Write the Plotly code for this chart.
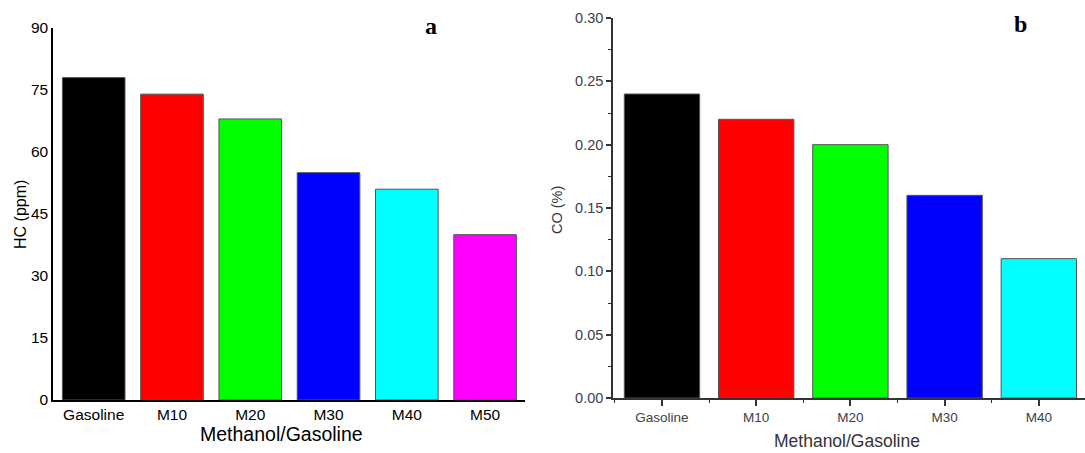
import plotly.graph_objects as go

# Emission data for methanol/gasoline blends
hc_categories = ["Gasoline", "M10", "M20", "M30", "M40", "M50"]
hc_values = [78, 74, 68, 55, 51, 40]
hc_colors = ["#000000", "#ff0000", "#00ff00", "#0000ff", "#00ffff", "#ff00ff"]

co_categories = ["Gasoline", "M10", "M20", "M30", "M40"]
co_values = [0.24, 0.22, 0.20, 0.16, 0.11]
co_colors = ["#000000", "#ff0000", "#00ff00", "#0000ff", "#00ffff"]

hc_ticks = [0, 15, 30, 45, 60, 75, 90]
co_ticks = [0.00, 0.05, 0.10, 0.15, 0.20, 0.25, 0.30]

W, H = 1085, 453

fig = go.Figure()

fig.add_trace(go.Bar(
    x=list(range(len(hc_categories))), y=hc_values,
    marker=dict(color=hc_colors, line=dict(color="#555555", width=1)),
    xaxis="x", yaxis="y", showlegend=False, width=0.8,
))
fig.add_trace(go.Bar(
    x=list(range(len(co_categories))), y=co_values,
    marker=dict(color=co_colors, line=dict(color="#555555", width=1)),
    xaxis="x2", yaxis="y2", showlegend=False, width=0.8,
))

def fx(px):
    return px / W

def fy(py):
    return (H - py) / H

fig.update_layout(
    width=W, height=H,
    margin=dict(l=0, r=0, t=0, b=0, autoexpand=False),
    paper_bgcolor="white", plot_bgcolor="white",
    font=dict(family="Arial, Liberation Sans, sans-serif", color="black"),
    xaxis=dict(
        domain=[fx(53), fx(525)], range=[-0.52, 5.51],
        tickmode="array", tickvals=list(range(len(hc_categories))), ticktext=hc_categories,
        showline=True, linecolor="black", linewidth=1.5, ticks="",
        showgrid=False, zeroline=False, tickfont=dict(size=15.5, color="black"),
        anchor="y", automargin=False,
    ),
    yaxis=dict(
        domain=[fy(400), fy(28)], range=[0, 90],
        tickmode="array", tickvals=hc_ticks,
        showline=True, linecolor="black", linewidth=1.5, ticks="",
        showgrid=False, zeroline=False, tickfont=dict(size=15.5, color="black"),
        anchor="x", automargin=False,
    ),
    xaxis2=dict(
        domain=[fx(613), 1.0], range=[-0.52, 4.49],
        tickmode="array", tickvals=list(range(len(co_categories))), ticktext=co_categories,
        showline=True, linecolor="#333333", linewidth=1.5,
        ticks="outside", ticklen=6, tickwidth=1.5, tickcolor="#333333",
        minor=dict(tickmode="array", tickvals=[i + 0.5 for i in range(-1, len(co_categories))],
                   ticks="outside", ticklen=3, tickwidth=1, tickcolor="#333333"),
        showgrid=False, zeroline=False, tickfont=dict(size=13.5, color="#404048"),
        anchor="y2", automargin=False,
    ),
    yaxis2=dict(
        domain=[fy(398), fy(18)], range=[0, 0.30],
        tickmode="array", tickvals=co_ticks, tickformat=".2f",
        showline=True, linecolor="#333333", linewidth=1.5,
        ticks="outside", ticklen=5, tickwidth=1.5, tickcolor="#333333",
        minor=dict(tickmode="array", tickvals=[0.025 + 0.05 * i for i in range(6)],
                   ticks="outside", ticklen=3, tickwidth=1, tickcolor="#333333"),
        showgrid=False, zeroline=False, tickfont=dict(size=14.5, color="#404048"),
        anchor="x2", automargin=False,
    ),
    bargap=0.2,
)

annotations = [
    dict(text="HC (ppm)", x=fx(20), y=fy(215), textangle=-90,
         font=dict(size=16, color="black")),
    dict(text="Methanol/Gasoline", x=fx(282), y=fy(434),
         font=dict(size=19.5, color="black")),
    dict(text="CO (%)", x=fx(557), y=fy(210), textangle=-90,
         font=dict(size=14.5, color="#333338")),
    dict(text="Methanol/Gasoline", x=fx(847), y=fy(441),
         font=dict(size=17.5, color="#333338")),
    dict(text="<b>a</b>", x=fx(431), y=fy(26),
         font=dict(size=24, color="black", family="Liberation Serif, DejaVu Serif, serif")),
    dict(text="<b>b</b>", x=fx(1020), y=fy(24),
         font=dict(size=24, color="black", family="Liberation Serif, DejaVu Serif, serif")),
]
for a in annotations:
    a.update(xref="paper", yref="paper", showarrow=False, xanchor="center", yanchor="middle")
fig.update_layout(annotations=annotations)

fig.write_html("out.html")
